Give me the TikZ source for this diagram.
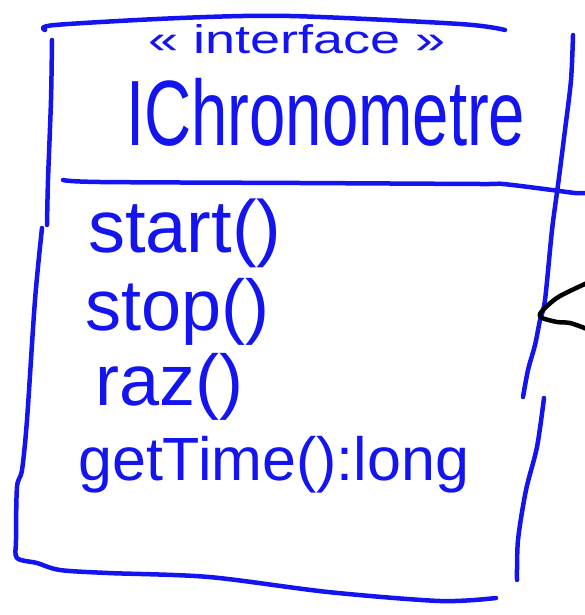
\documentclass[tikz,border=0pt]{standalone}
\usepackage{fontspec}
\setmainfont{Liberation Sans}
\definecolor{pen}{RGB}{20,20,240}
\begin{document}
\begin{tikzpicture}[x=1pt,y=-1pt,
  stroke/.style={draw=pen,line width=4.5pt,line cap=round,line join=round},
  blk/.style={draw=black,line width=4.5pt,line cap=round,line join=round},
  txt/.style={text=pen,inner sep=0pt,anchor=base west}]
\useasboundingbox (0,0) rectangle (585,615);
% top border
\draw[stroke] plot[smooth,tension=0.5] coordinates {(45,30) (55,25) (180,18) (290,16) (460,24) (505,30)};
% left upper stroke
\draw[stroke] plot[smooth,tension=0.5] coordinates {(52,40) (51,100) (48,180) (47,225)};
% right stroke
\draw[stroke] plot[smooth,tension=0.5] coordinates {(573,35) (571,80) (565,130) (558,185) (552,230) (545,300) (540,320) (535,345) (528,370) (523,397)};
% divider
\draw[stroke] plot[smooth,tension=0.5] coordinates {(63,180) (100,182) (300,183) (480,184) (503,184) (552,190) (575,193) (585,193)};
% left lower + bottom
\draw[stroke] plot[smooth,tension=0.5] coordinates {(42,228) (35,300) (27,420) (22,470) (17,487) (16,540) (17,558) (37,563) (60,570) (108,573) (209,577) (328,592) (440,601) (496,598)};
% right lower stroke
\draw[stroke] plot[smooth,tension=0.5] coordinates {(544,398) (537,447) (526,490) (518,540) (517,580)};
% black curve
\draw[blk] plot[smooth,tension=0.5] coordinates {(587,283) (560,296) (547,306) (540,314) (542,318) (557,322) (570,323) (587,329)};
% texts
\node[txt,font=\fontsize{40}{40}\selectfont] (st) at (148,54) {\scalebox{1.35}[1]{<< interface >>}};
\node[txt,font=\fontsize{64}{64}\selectfont] (nm) at (126,145) {\scalebox{1.02}[1.45]{IChronometre}};
\node[txt,font=\fontsize{74}{74}\selectfont] (m1) at (88,252) {start()};
\node[txt,font=\fontsize{72}{72}\selectfont] (m2) at (85,330) {stop()};
\node[txt,font=\fontsize{72}{72}\selectfont] (m3) at (95,405) {raz()};
\node[txt,font=\fontsize{61}{61}\selectfont] (m4) at (78,480) {getTime():long};
\end{tikzpicture}
\end{document}
